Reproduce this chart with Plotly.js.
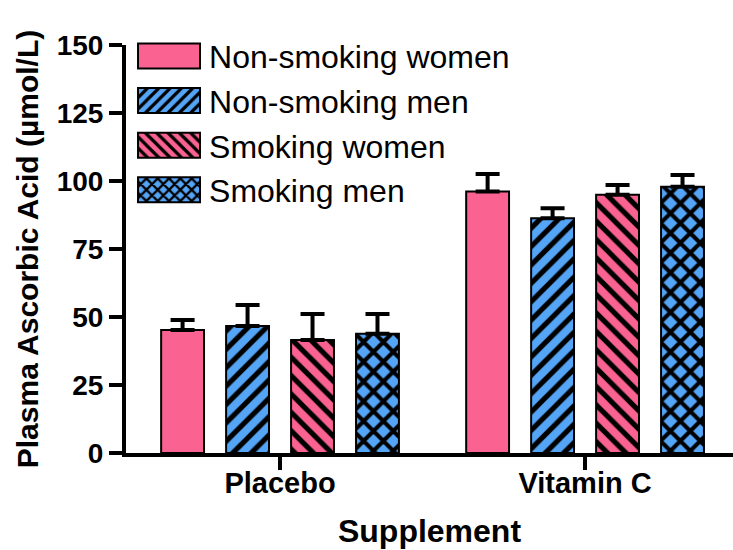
<!DOCTYPE html>
<html><head><meta charset="utf-8">
<script src="https://cdn.plot.ly/plotly-3.0.1.min.js"></script>
<style>html,body{margin:0;padding:0;background:#fff}</style>
</head><body><div id="chart" style="width:733px;height:550px"></div>
<script>
const categories = ['Placebo', 'Vitamin C'];
const seriesNames = ['Non-smoking women', 'Non-smoking men', 'Smoking women', 'Smoking men'];
const nonSmokingWomen = [45.2, 96.1];
const nonSmokingWomenErr = [3.7, 6.5];
const nonSmokingMen = [46.7, 86.3];
const nonSmokingMenErr = [7.7, 3.7];
const smokingWomen = [41.5, 94.9];
const smokingWomenErr = [9.6, 3.6];
const smokingMen = [43.8, 97.9];
const smokingMenErr = [7.3, 4.3];
const yTickVals = [0, 25, 50, 75, 100, 125, 150];

const PINK = '#fa6291';
const BLUE = '#55a5f7';
const values = [nonSmokingWomen, nonSmokingMen, smokingWomen, smokingMen];
const errs = [nonSmokingWomenErr, nonSmokingMenErr, smokingWomenErr, smokingMenErr];
const colors = [PINK, BLUE, PINK, BLUE];
const shapes = ['', '/', '\\', 'x'];
const pSizes = [8, 13, 13, 14];
const pSolid = [0.3, 0.4, 0.4, 0.5];

const traces = seriesNames.map((name, i) => ({
  type: 'bar',
  name: name,
  x: categories,
  y: values[i],
  marker: {
    color: colors[i],
    line: {color: '#000', width: 2},
    pattern: {shape: shapes[i], fgcolor: '#000', bgcolor: colors[i], size: pSizes[i], solidity: pSolid[i], fillmode: 'replace'}
  },
  error_y: {type: 'data', symmetric: false, array: errs[i], arrayminus: errs[i].map(() => 0),
            color: '#000', thickness: 4, width: 12}
}));

const bold = {family: 'Liberation Sans, Arial, sans-serif', color: '#000', weight: 'bold'};
const layout = {
  width: 733, height: 550,
  margin: {l: 126, r: 0, t: 45, b: 97, pad: 0},
  paper_bgcolor: '#fff', plot_bgcolor: '#fff',
  barmode: 'group', bargap: 0.148, bargroupgap: 0.34,
  showlegend: true,
  legend: {x: 0.005, y: 1.04, xanchor: 'left', yanchor: 'top', bgcolor: 'rgba(0,0,0,0)',
           font: {family: 'Liberation Sans, Arial, sans-serif', size: 32, color: '#000'},
           itemwidth: 70, traceorder: 'normal'},
  xaxis: {
    range: [-0.505, 1.485], showline: true, linecolor: '#000', linewidth: 4,
    ticks: 'outside', ticklen: 13, tickwidth: 4, tickcolor: '#000', ticklabelstandoff: -12,
    tickfont: Object.assign({size: 29}, bold), showgrid: false, zeroline: false,
    title: {text: 'Supplement', font: Object.assign({size: 32}, bold), standoff: 23}
  },
  yaxis: {
    range: [0, 150], tickvals: yTickVals, showline: true, linecolor: '#000', linewidth: 4,
    ticks: 'outside', ticklen: 13, tickwidth: 4, tickcolor: '#000',
    tickfont: Object.assign({size: 28}, bold), showgrid: false, zeroline: false,
    title: {text: 'Plasma Ascorbic Acid (µmol/L)', font: Object.assign({size: 30}, bold), standoff: 10}
  }
};

Plotly.newPlot('chart', traces, layout, {displayModeBar: false, staticPlot: true}).then(() => {
  document.querySelectorAll('#chart .legend .traces .legendpoints path').forEach(p => {
    p.setAttribute('d', 'M-31,-12.5H31V12.5H-31Z');
    p.style.strokeWidth = '2px';
  });
});
</script></body></html>
